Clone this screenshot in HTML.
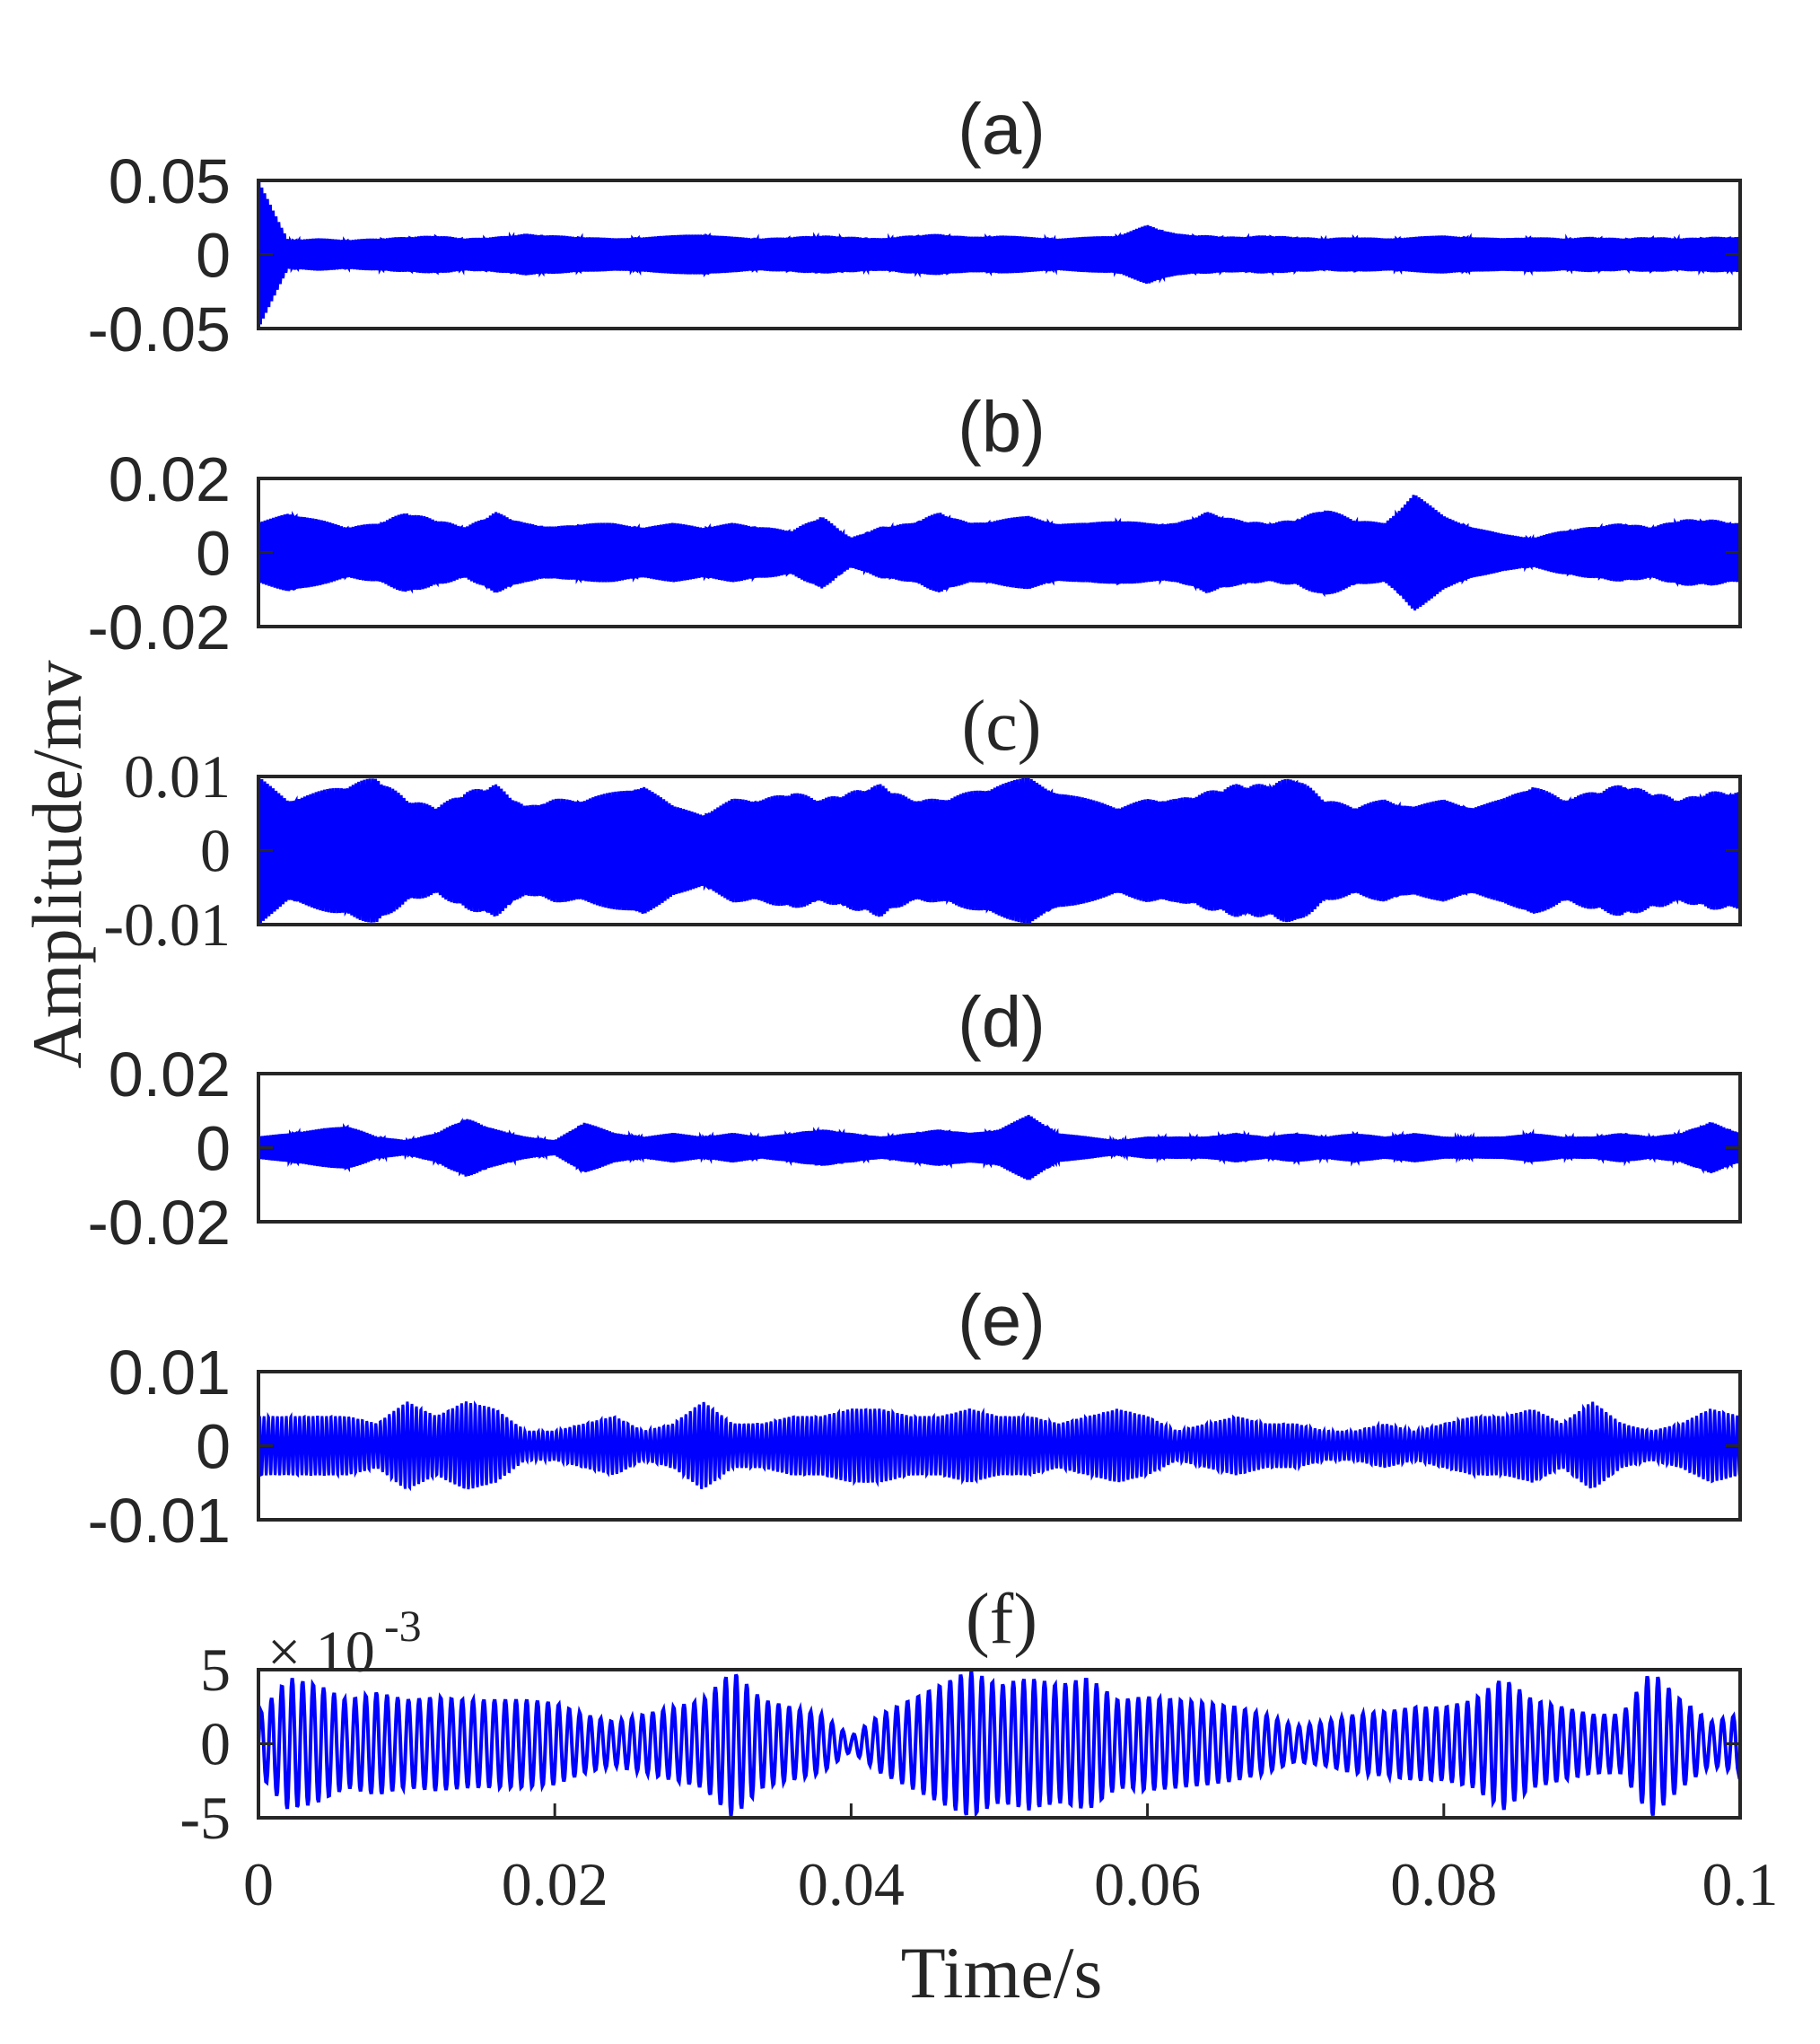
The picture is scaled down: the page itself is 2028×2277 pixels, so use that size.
<!DOCTYPE html>
<html><head><meta charset="utf-8"><style>
html,body{margin:0;padding:0;background:#fff}
svg text{fill:#262626}
.s{font-family:"Liberation Sans",sans-serif}
.r{font-family:"Liberation Serif",serif}
</style></head><body>
<svg id="chart" width="2028" height="2272" viewBox="0 0 2028 2272" xmlns="http://www.w3.org/2000/svg"></svg>
<script>
const envA=[0.05,0.01,0.011,0.01,0.011,0.012,0.013,0.011,0.012,0.014,0.013,0.012,0.011,0.012,0.013,0.014,0.012,0.011,0.012,0.013,0.012,0.011,0.013,0.014,0.012,0.013,0.012,0.011,0.012,0.013,0.02,0.014,0.013,0.012,0.013,0.012,0.011,0.012,0.011,0.012,0.013,0.012,0.011,0.012,0.011,0.012,0.011,0.012,0.011,0.012,0.012];
const envB=[0.008,0.011,0.009,0.007,0.008,0.011,0.009,0.007,0.011,0.008,0.007,0.008,0.008,0.007,0.008,0.007,0.008,0.007,0.006,0.01,0.004,0.007,0.008,0.011,0.008,0.009,0.01,0.008,0.008,0.009,0.008,0.008,0.011,0.009,0.008,0.009,0.012,0.009,0.008,0.016,0.01,0.007,0.005,0.004,0.006,0.007,0.008,0.007,0.009,0.009,0.008];
const envC=[0.01,0.007,0.008,0.009,0.01,0.007,0.006,0.008,0.009,0.006,0.007,0.007,0.008,0.009,0.006,0.005,0.007,0.007,0.008,0.007,0.008,0.009,0.007,0.007,0.008,0.009,0.01,0.008,0.007,0.006,0.007,0.007,0.008,0.009,0.009,0.01,0.007,0.006,0.007,0.006,0.007,0.006,0.007,0.009,0.007,0.008,0.009,0.008,0.007,0.008,0.008];
const envD=[0.003,0.004,0.005,0.006,0.003,0.002,0.004,0.008,0.005,0.003,0.002,0.007,0.004,0.003,0.004,0.003,0.004,0.003,0.004,0.005,0.004,0.003,0.004,0.005,0.004,0.005,0.009,0.004,0.003,0.002,0.003,0.003,0.003,0.004,0.003,0.004,0.003,0.004,0.003,0.004,0.003,0.003,0.003,0.004,0.003,0.003,0.004,0.003,0.004,0.007,0.004];
const envE=[0.004,0.004,0.004,0.004,0.003,0.006,0.004,0.006,0.005,0.002,0.002,0.003,0.004,0.002,0.003,0.006,0.003,0.003,0.004,0.004,0.005,0.005,0.004,0.004,0.005,0.004,0.004,0.003,0.004,0.005,0.004,0.002,0.003,0.004,0.003,0.003,0.002,0.002,0.003,0.002,0.003,0.004,0.004,0.005,0.003,0.006,0.003,0.002,0.003,0.005,0.004];
const envF=[0.002,0.0045,0.004,0.003,0.0035,0.003,0.0032,0.003,0.003,0.003,0.0028,0.002,0.0015,0.002,0.0025,0.003,0.005,0.003,0.0025,0.002,0.0005,0.002,0.003,0.004,0.005,0.004,0.0045,0.004,0.0045,0.003,0.0032,0.003,0.0028,0.0025,0.002,0.0012,0.0015,0.002,0.0022,0.0025,0.0025,0.003,0.0045,0.003,0.0025,0.002,0.002,0.005,0.003,0.0015,0.002];
const panelLabels=["(a)","(b)","(c)","(d)","(e)","(f)"];
const yLims=[0.05,0.02,0.01,0.02,0.01,0.005];
const yTickLabels=[["0.05","0","-0.05"],["0.02","0","-0.02"],["0.01","0","-0.01"],["0.02","0","-0.02"],["0.01","0","-0.01"],["5","0","-5"]];
const xTicks=[0,0.02,0.04,0.06,0.08,0.1];
const xTickLabels=["0","0.02","0.04","0.06","0.08","0.1"];
const envs=[envA,envB,envC,envD,envE,envF];
const carrierHz=[5200,5200,5200,5200,3300,1400];

const svg=document.getElementById('chart');
const NS='http://www.w3.org/2000/svg';
const X0=288,X1=1939,H=165,tops=[201,533,865,1196,1528,1860];
const serifPanel=[false,false,true,false,false,true];
const xs=t=>X0+(t/0.1)*(X1-X0);
function mk(tag,attrs,txt){const e=document.createElementNS(NS,tag);for(const k in attrs)e.setAttribute(k,attrs[k]);if(txt!==undefined)e.textContent=txt;svg.appendChild(e);return e;}
function env(a,t){const p=t/0.002;const i=Math.min(Math.floor(p),a.length-2);const f=p-i;return a[i]*(1-f)+a[i+1]*f;}
for(let k=0;k<6;k++){
  const top=tops[k],lim=yLims[k];
  const ys=v=>top+H/2-(v/lim)*(H/2);
  let d='';const N=k==5?1800:4200;
  for(let i=0;i<=N;i++){const t=0.1*i/N;const e=env(envs[k],t);const v=e*Math.sin(2*Math.PI*carrierHz[k]*t+0.7*Math.sin(2*Math.PI*37*t));
    const yy=Math.max(top+1,Math.min(top+H-1,ys(v)));d+=(i?'L':'M')+xs(t).toFixed(1)+' '+yy.toFixed(1);}
  const p=mk('path',{d:d,fill:'none',stroke:'#0000ff','stroke-width':k==5?4:3});
  
  
  const b=mk('rect',{x:X0,y:top,width:X1-X0,height:H,fill:'none',stroke:'#262626','stroke-width':4});
  
  
  const vals=[lim,0,-lim];
  for(let j=0;j<3;j++){
    mk('line',{x1:X0,x2:X0+16,y1:ys(vals[j]),y2:ys(vals[j]),stroke:'#262626','stroke-width':3});
    mk('line',{x1:X1,x2:X1-16,y1:ys(vals[j]),y2:ys(vals[j]),stroke:'#262626','stroke-width':3});
    const tl=mk('text',{x:257,y:ys(vals[j])+ (serifPanel[k]?23:25),'text-anchor':'end','font-size':serifPanel[k]?68:70,class:serifPanel[k]?'r':'s'},yTickLabels[k][j]);
    
    
  }
  const tt=mk('text',{x:1116,y:top-30,'text-anchor':'middle','font-size':80,class:serifPanel[k]?'r':'s'},panelLabels[k]);
  
  
}
for(let i=0;i<xTicks.length;i++){
  const x=xs(xTicks[i]);
  mk('line',{x1:x,x2:x,y1:tops[5]+H,y2:tops[5]+H-16,stroke:'#262626','stroke-width':3});
  const xl=mk('text',{x:x,y:2122,'text-anchor':'middle','font-size':68,class:'r'},xTickLabels[i]);
  
  
}
const xt=mk('text',{x:1116,y:2225,'text-anchor':'middle','font-size':82,class:'r'},'Time/s');


const yt=mk('text',{x:0,y:0,'text-anchor':'middle','font-size':78,class:'r',transform:'translate(90,963) rotate(-90)'},'Amplitude/mv');


const ex=mk('text',{x:298,y:1862,'font-size':66,class:'r'},'× 10');


const ex2=mk('text',{x:428,y:1828,'font-size':50,class:'r'},'-3');


</script>
</body></html>
